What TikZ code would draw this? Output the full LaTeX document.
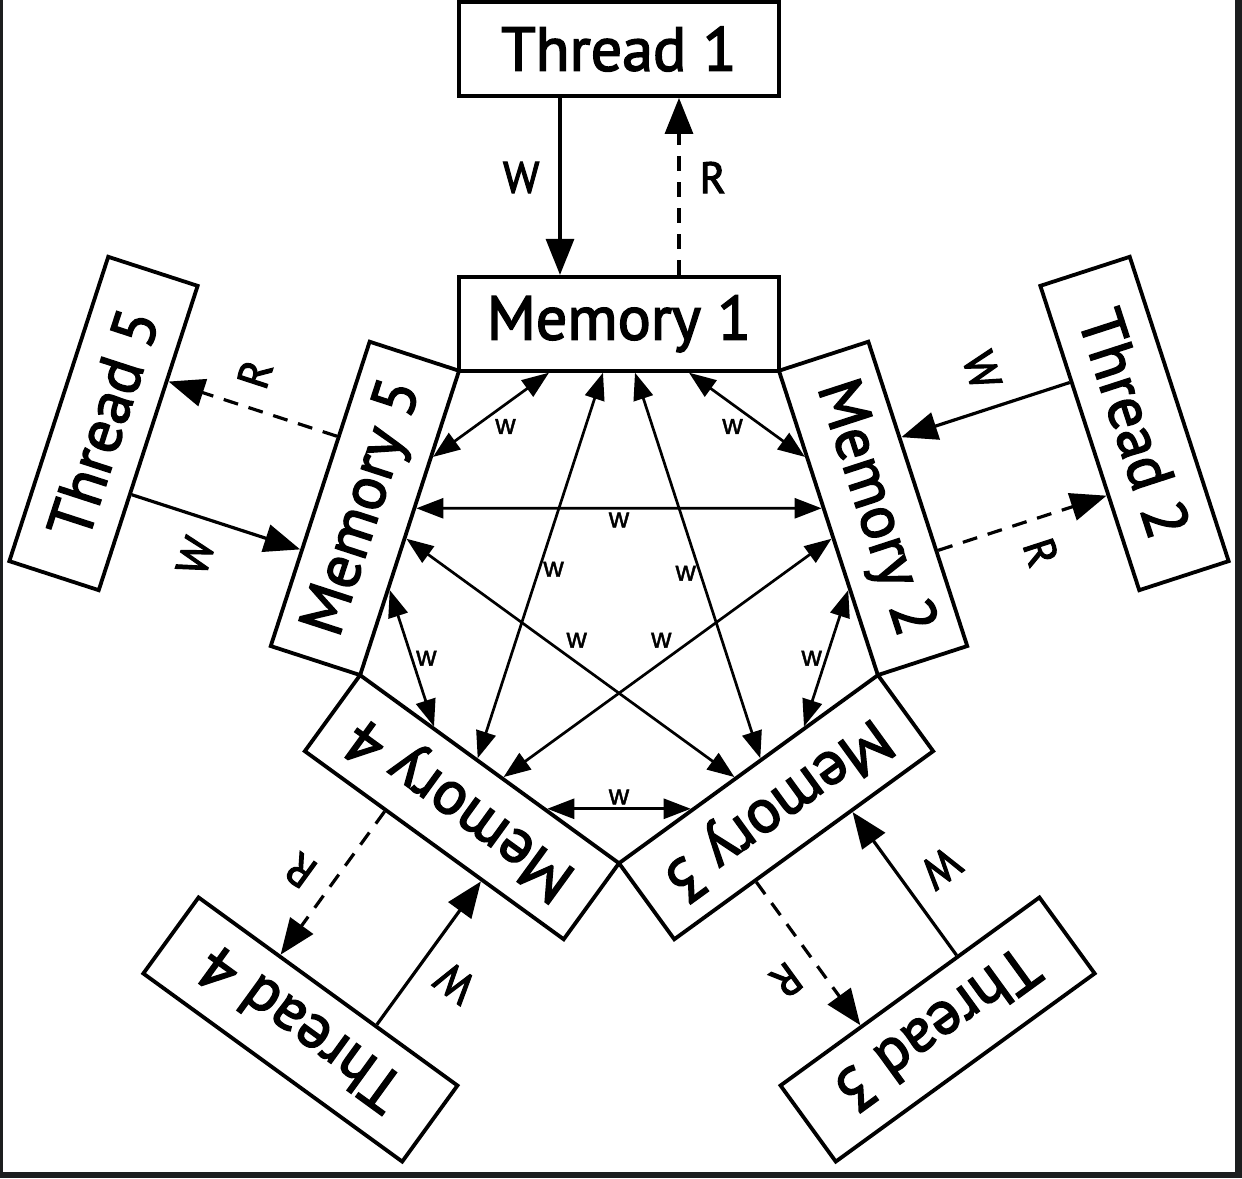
\documentclass[tikz,border=0pt]{standalone}
\usepackage{fontspec}
\setmainfont{PT Sans}[FakeBold=2.5]
\newfontfamily\wfont{Liberation Sans}[FakeBold=1.5]
\usepackage{tikz}
\usetikzlibrary{calc}
\usetikzlibrary{arrows.meta}

\begin{document}
\begin{tikzpicture}[x=1pt, y=1pt,
				every node/.style={transform shape},
				box/.style={rectangle, draw, line width=3.8pt, inner sep=0pt, minimum width=320pt, minimum height=94pt, font=\fontsize{62}{62}\selectfont},
				rwlabel/.style={inner sep=19pt, font=\fontsize{44}{44}\selectfont},
				warrow/.style={-{Triangle[length=36pt, width=28pt]}, line width=3.2pt},
				rarrow/.style={warrow, dash pattern=on 15pt off 11pt},
				marrow/.style={{Triangle[length=27pt, width=20pt]}-{Triangle[length=27pt, width=20pt]}, line width=2.7pt},
				wsmall/.style={inner sep=3pt, font=\wfont\fontsize{28}{28}\selectfont}]

					\definecolor{frame}{RGB}{28,30,31}

					\fill[white, use as bounding box] (-619,-587) rectangle (623,591);
					\fill[frame] (-619,-587) rectangle (-616,591);
					\fill[frame] (616,-587) rectangle (623,591);
					\fill[frame] (-619,-587) rectangle (623,-581);

					% memories round the pentagon
					\node[box] (m1) at (0, 267.2) {Memory 1};
					\node[box, rotate=-72] (m2) at (254.1, 82.6) {Memory 2};
					\node[box, rotate=-144] (m3) at (157.1, -216.2) {Memory 3};
					\node[box, rotate=144] (m4) at (-157.1, -216.2) {Memory 4};
					\node[box, rotate=72] (m5) at (-254.1, 82.6) {Memory 5};

					% threads outside
					\node[box] (t1) at (0, 542) {Thread 1};
					\node[box, rotate=-72] (t2) at (515.5, 167.5) {Thread 2};
					\node[box, rotate=-144] (t3) at (318.6, -438.5) {Thread 3};
					\node[box, rotate=144] (t4) at (-318.6, -438.5) {Thread 4};
					\node[box, rotate=72] (t5) at (-515.5, 167.5) {Thread 5};

					\draw ($(t1.south)!59pt!(t1.south west)$) edge [warrow] node[rwlabel, pos=0.45, anchor=east] {W} ($(m1.north)!59pt!(m1.north west)$);
					\draw ($(m1.north)!60pt!(m1.north east)$) edge [rarrow] node[rwlabel, pos=0.55, anchor=west] {R} ($(t1.south)!60pt!(t1.south east)$);
					\draw ($(t2.south)!59pt!(t2.south west)$) edge [warrow] node[rwlabel, pos=0.45, anchor=east, rotate=-72] {W} ($(m2.north)!59pt!(m2.north west)$);
					\draw ($(m2.north)!60pt!(m2.north east)$) edge [rarrow] node[rwlabel, pos=0.55, anchor=west, rotate=-72] {R} ($(t2.south)!60pt!(t2.south east)$);
					\draw ($(t3.south)!59pt!(t3.south west)$) edge [warrow] node[rwlabel, pos=0.45, anchor=east, rotate=-144] {W} ($(m3.north)!59pt!(m3.north west)$);
					\draw ($(m3.north)!60pt!(m3.north east)$) edge [rarrow] node[rwlabel, pos=0.55, anchor=west, rotate=-144] {R} ($(t3.south)!60pt!(t3.south east)$);
					\draw ($(t4.south)!59pt!(t4.south west)$) edge [warrow] node[rwlabel, pos=0.45, anchor=east, rotate=144] {W} ($(m4.north)!59pt!(m4.north west)$);
					\draw ($(m4.north)!60pt!(m4.north east)$) edge [rarrow] node[rwlabel, pos=0.55, anchor=west, rotate=144] {R} ($(t4.south)!60pt!(t4.south east)$);
					\draw ($(t5.south)!59pt!(t5.south west)$) edge [warrow] node[rwlabel, pos=0.45, anchor=east, rotate=72] {W} ($(m5.north)!59pt!(m5.north west)$);
					\draw ($(m5.north)!60pt!(m5.north east)$) edge [rarrow] node[rwlabel, pos=0.55, anchor=west, rotate=72] {R} ($(t5.south)!60pt!(t5.south east)$);

					% neighbours
					\draw ($(m5.south)!70pt!(m5.south east)$) edge [marrow] node[wsmall, pos=0.5, anchor=north west] {w} ($(m1.south)!70pt!(m1.south west)$);
					\draw ($(m1.south)!70pt!(m1.south east)$) edge [marrow] node[wsmall, pos=0.5, anchor=north east] {w} ($(m2.south)!70pt!(m2.south west)$);
					\draw ($(m2.south)!70pt!(m2.south east)$) edge [marrow] node[wsmall, pos=0.5, anchor=east] {w} ($(m3.south)!70pt!(m3.south west)$);
					\draw ($(m3.south)!70pt!(m3.south east)$) edge [marrow] node[wsmall, pos=0.5, anchor=south] {w} ($(m4.south)!70pt!(m4.south west)$);
					\draw ($(m4.south)!70pt!(m4.south east)$) edge [marrow] node[wsmall, pos=0.5, anchor=west] {w} ($(m5.south)!70pt!(m5.south west)$);

					% across the star
					\draw ($(m5.south)!16pt!(m5.south east)$) edge [marrow] node[wsmall, pos=0.5, anchor=north] {w} ($(m2.south)!16pt!(m2.south west)$);
					\draw ($(m1.south)!16pt!(m1.south east)$) edge [marrow] node[wsmall, pos=0.52, anchor=east] {w} ($(m3.south)!16pt!(m3.south west)$);
					\draw ($(m4.south)!16pt!(m4.south east)$) edge [marrow] node[wsmall, pos=0.49, anchor=west] {w} ($(m1.south)!16pt!(m1.south west)$);
					\draw ($(m3.south)!16pt!(m3.south east)$) edge [marrow] node[wsmall, pos=0.525, anchor=south west] {w} ($(m5.south)!16pt!(m5.south west)$);
					\draw ($(m2.south)!16pt!(m2.south east)$) edge [marrow] node[wsmall, pos=0.475, anchor=south east] {w} ($(m4.south)!16pt!(m4.south west)$);
				\end{tikzpicture}
\end{document}
